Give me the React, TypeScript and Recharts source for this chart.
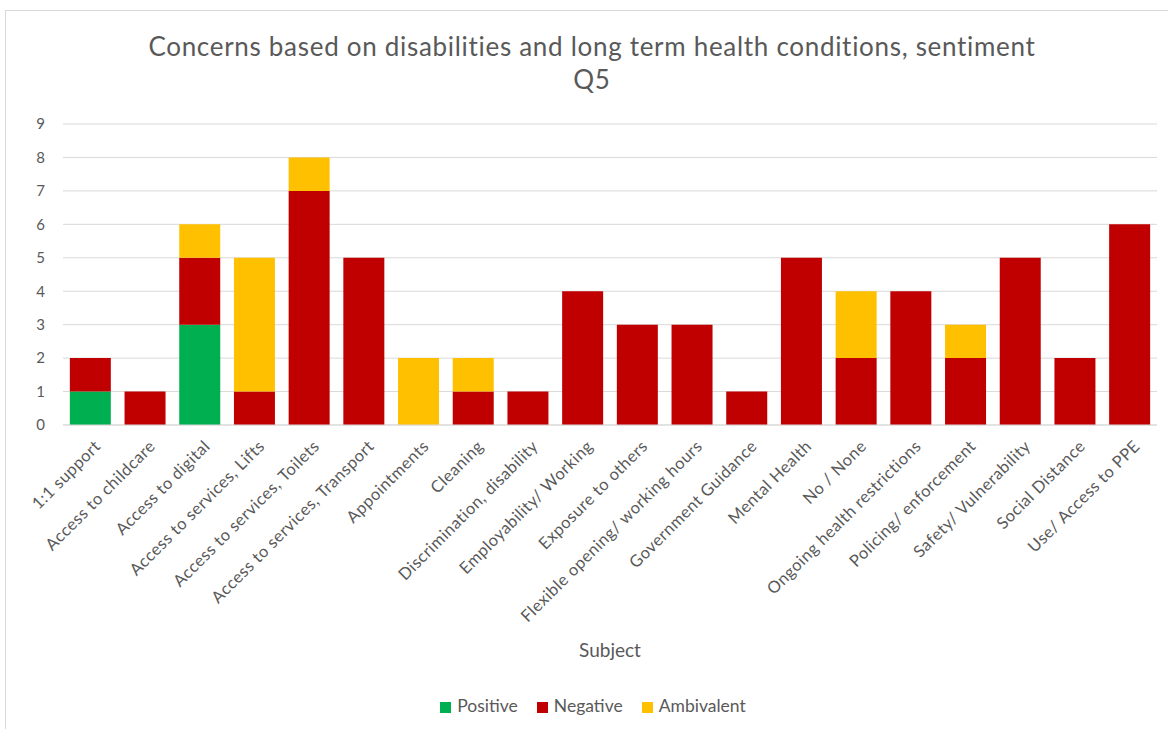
import { BarChart, Bar, XAxis, YAxis, CartesianGrid, Legend } from "recharts";

const subjects = [
  "1:1 support",
  "Access to childcare",
  "Access to digital",
  "Access to services, Lifts",
  "Access to services, Toilets",
  "Access to services, Transport",
  "Appointments",
  "Cleaning",
  "Discrimination, disability",
  "Employability/ Working",
  "Exposure to others",
  "Flexible opening/ working hours",
  "Government Guidance",
  "Mental Health",
  "No / None",
  "Ongoing health restrictions",
  "Policing/ enforcement",
  "Safety/ Vulnerability",
  "Social Distance",
  "Use/ Access to PPE",
];

const positive = [1, 0, 3, 0, 0, 0, 0, 0, 0, 0, 0, 0, 0, 0, 0, 0, 0, 0, 0, 0];
const negative = [1, 1, 2, 1, 7, 5, 0, 1, 1, 4, 3, 3, 1, 5, 2, 4, 2, 5, 2, 6];
const ambivalent = [0, 0, 1, 4, 1, 0, 2, 1, 0, 0, 0, 0, 0, 0, 2, 0, 1, 0, 0, 0];

const yTicks = [0, 1, 2, 3, 4, 5, 6, 7, 8, 9];
const seriesOrder = ["Positive", "Negative", "Ambivalent"];

const data = subjects.map((s, i) => ({
  subject: s,
  Positive: positive[i],
  Negative: negative[i],
  Ambivalent: ambivalent[i],
}));

const FONT = "Lato, 'Open Sans', sans-serif";
const GREY = "#595959";

function SubjectTick({ x, y, payload }: any) {
  return (
    <g transform={`translate(${x + 3},${y + 6})`}>
      <text
        x={0}
        y={0}
        dy="0.71em"
        textAnchor="end"
        transform="rotate(-45)"
        fill={GREY}
        fontSize={16.5}
        letterSpacing={0.5}
        fontFamily={FONT}
      >
        {payload.value}
      </text>
    </g>
  );
}

export default function App() {
  return (
    <div style={{ position: "absolute", left: 0, top: 0, width: 1168, height: 729, background: "#fff", fontFamily: FONT }}>
      <div
        style={{
          position: "absolute",
          left: 5,
          top: 10,
          width: 1200,
          height: 760,
          borderTop: "1px solid #d9d9d9",
          borderLeft: "1px solid #d9d9d9",
        }}
      />
      <div
        style={{
          position: "absolute",
          left: 0,
          top: 30,
          width: 1184,
          textAlign: "center",
          color: GREY,
          fontSize: 26,
          letterSpacing: 0.7,
          lineHeight: "33px",
        }}
      >
        Concerns based on disabilities and long term health conditions, sentiment
        <br />
        Q5
      </div>
      <BarChart
        width={1168}
        height={729}
        data={data}
        margin={{ top: 124, right: 11, bottom: 4, left: 23 }}
        barCategoryGap="12.5%"
      >
        <CartesianGrid vertical={false} stroke="#d9d9d9" />
        <XAxis
          dataKey="subject"
          interval={0}
          height={270}
          tick={<SubjectTick />}
          tickLine={false}
          axisLine={{ stroke: "#d9d9d9" }}
          label={{ value: "Subject", position: "insideBottom", offset: 38, fill: GREY, fontSize: 19, fontFamily: FONT }}
        />
        <YAxis
          domain={[0, 9]}
          ticks={yTicks}
          width={40}
          axisLine={false}
          tickLine={false}
          tickSize={0}
          tickMargin={18}
          tick={{ fill: GREY, fontSize: 15, fontFamily: FONT }}
        />
        <Legend
          verticalAlign="bottom"
          height={30}
          iconType="square"
          iconSize={11}
          itemSorter={(item: any) => seriesOrder.indexOf(item.value)}
          wrapperStyle={{ fontSize: 17.5, fontFamily: FONT, color: GREY, paddingLeft: 8 }}
          formatter={(v: string) => (
            <span style={{ color: GREY, marginLeft: 2, marginRight: v === "Ambivalent" ? 0 : 9 }}>{v}</span>
          )}
        />
        <Bar dataKey="Positive" stackId="a" fill="#00B050" isAnimationActive={false} />
        <Bar dataKey="Negative" stackId="a" fill="#C00000" isAnimationActive={false} />
        <Bar dataKey="Ambivalent" stackId="a" fill="#FFC000" isAnimationActive={false} />
      </BarChart>
    </div>
  );
}
